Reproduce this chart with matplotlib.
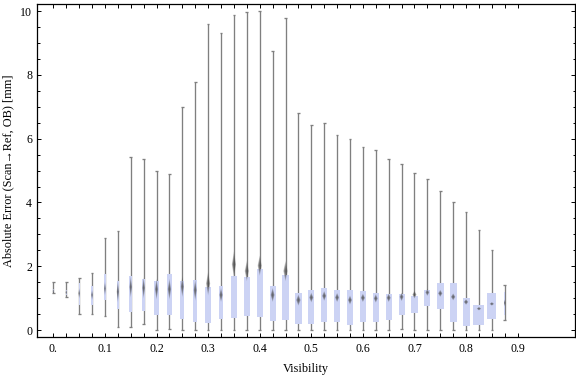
# box-whisker chart: absolute error vs visibility

import numpy as np
import matplotlib
matplotlib.use('Agg')
import matplotlib.pyplot as plt

# categories (visibility bins)
visibility = [0.0, 0.025, 0.05, 0.075, 0.1, 0.125, 0.15, 0.175, 0.2, 0.225,
              0.25, 0.275, 0.3, 0.325, 0.35, 0.375, 0.4, 0.425, 0.45, 0.475,
              0.5, 0.525, 0.55, 0.575, 0.6, 0.625, 0.65, 0.675, 0.7, 0.725,
              0.75, 0.775, 0.8, 0.825, 0.85, 0.875]

# whisker ends, quartiles and medians [mm]
wmin = [1.15, 1.05, 0.50, 0.50, 0.45, 0.10, 0.10, 0.18, 0.00, 0.02,
        0.00, 0.00, 0.00, 0.00, 0.00, 0.00, 0.00, 0.00, 0.00, 0.00,
        0.00, 0.00, 0.00, 0.00, 0.00, 0.00, 0.00, 0.02, 0.00, 0.00,
        0.00, 0.00, 0.00, 0.00, 0.00, 0.33]
q1 = [1.18, 1.10, 0.78, 0.78, 0.94, 0.66, 0.56, 0.60, 0.48, 0.47,
      0.34, 0.26, 0.23, 0.34, 0.38, 0.44, 0.41, 0.29, 0.31, 0.20,
      0.20, 0.25, 0.25, 0.17, 0.25, 0.25, 0.31, 0.48, 0.54, 0.76,
      0.67, 0.26, 0.14, 0.17, 0.36, 0.47]
med = [1.22, 1.18, 1.15, 1.10, 1.30, 1.20, 1.35, 1.32, 1.28, 1.28,
       1.36, 1.25, 1.46, 1.10, 2.06, 1.85, 2.02, 1.10, 1.85, 0.94,
       1.02, 1.07, 1.02, 0.94, 1.01, 0.99, 1.01, 1.04, 1.11, 1.18,
       1.15, 1.04, 0.88, 0.67, 0.82, 0.85]
q3 = [1.30, 1.25, 1.46, 1.38, 1.76, 1.54, 1.69, 1.60, 1.54, 1.76,
      1.54, 1.57, 1.36, 1.38, 1.70, 1.66, 1.91, 1.38, 1.72, 1.16,
      1.25, 1.32, 1.25, 1.25, 1.22, 1.16, 1.13, 1.13, 1.07, 1.25,
      1.47, 1.47, 0.99, 0.78, 1.16, 1.20]
wmax = [1.50, 1.50, 1.63, 1.79, 2.88, 3.10, 5.42, 5.36, 5.00, 4.89,
        6.98, 7.77, 9.59, 9.33, 9.89, 9.96, 9.99, 8.74, 9.80, 6.81,
        6.42, 6.48, 6.13, 5.98, 5.74, 5.66, 5.35, 5.22, 4.94, 4.75,
        4.35, 4.00, 3.69, 3.14, 2.50, 1.40]
# spread of the median marker [mm]
med_spread = [0.08, 0.08, 0.15, 0.15, 0.20, 0.30, 0.30, 0.30, 0.30, 0.30,
              0.30, 0.30, 0.34, 0.20, 0.37, 0.29, 0.29, 0.20, 0.29, 0.16,
              0.14, 0.14, 0.13, 0.13, 0.12, 0.12, 0.12, 0.12, 0.11, 0.10,
              0.10, 0.10, 0.08, 0.05, 0.05, 0.10]
# relative box weight
box_weight = [0.08, 0.15, 0.15, 0.2, 0.2, 0.43, 0.52, 0.56, 0.68, 0.75,
              0.68, 0.68, 1.0, 0.75, 1.0, 1.0, 1.0, 0.95, 1.06, 1.1,
              1.0, 1.0, 1.0, 0.95, 1.06, 0.95, 1.0, 0.95, 1.0, 0.95,
              1.06, 1.16, 1.1, 1.75, 1.43, 0.16]

xtick_pos = [0.025 * i for i in range(37)]
xtick_lab = ['0.' if i == 0 else ('%.1f' % (i * 0.025) if i % 4 == 0 else '')
             for i in range(37)]

SERIF = ['Liberation Serif', 'DejaVu Serif']
plt.rcParams['font.family'] = SERIF

fig = plt.figure(figsize=(5.76, 3.77), dpi=100)
ax = fig.add_axes([0.064, 0.106, 0.935, 0.883])

x = np.array(visibility)
wmin = np.array(wmin)
wmax = np.array(wmax)
q1 = np.array(q1)
q3 = np.array(q3)
med = np.array(med)
spread = np.array(med_spread)
bw = np.array(box_weight) * 0.0122

gray = '#7f7f7f'
cap = 0.0026
ax.vlines(x, wmin, wmax, color=gray, lw=0.95, zorder=1)
ax.hlines(wmin, x - cap, x + cap, color=gray, lw=0.95, zorder=1)
ax.hlines(wmax, x - cap, x + cap, color=gray, lw=0.95, zorder=1)

ax.bar(x, q3 - q1, bottom=q1, width=bw, color='#ccd3f4', lw=0, zorder=2)

# blurred diamond for the median
for xi, m, s, w in zip(x, med, spread, bw):
    hw = 0.5 * min(w, 0.0136) / 2 + 0.001
    for k in range(1, 7):
        f = k / 6.0
        ax.fill([xi - hw * f, xi, xi + hw * f, xi],
                [m, m + s * f * 1.1, m, m - s * f * 1.1],
                color='#4a4a4a', alpha=0.26, lw=0, zorder=3)

ax.set_xlim(-0.032, 1.012)
ax.set_ylim(-0.22, 10.22)
ax.set_xticks(xtick_pos)
ax.set_xticklabels(xtick_lab)
ax.set_yticks([0, 2, 4, 6, 8, 10])
ax.set_yticks(np.arange(0, 10.01, 0.5), minor=True)

ax.tick_params(axis='x', direction='in', top=True, length=3.0, width=0.7,
               pad=4.5, labelsize=8.6)
ax.tick_params(axis='y', which='major', direction='in', right=True,
               length=3.0, width=0.7, pad=3.5, labelsize=8.6)
ax.tick_params(axis='y', which='minor', direction='in', right=True,
               length=1.8, width=0.7)
for sp in ax.spines.values():
    sp.set_linewidth(0.9)

ax.set_xlabel('Visibility', fontsize=8.8, labelpad=5.5)
ax.set_ylabel('Absolute Error (Scan\u2192Ref, OB) [mm]', fontsize=8.8,
              labelpad=4)

fig.savefig('out.png', dpi=100)
